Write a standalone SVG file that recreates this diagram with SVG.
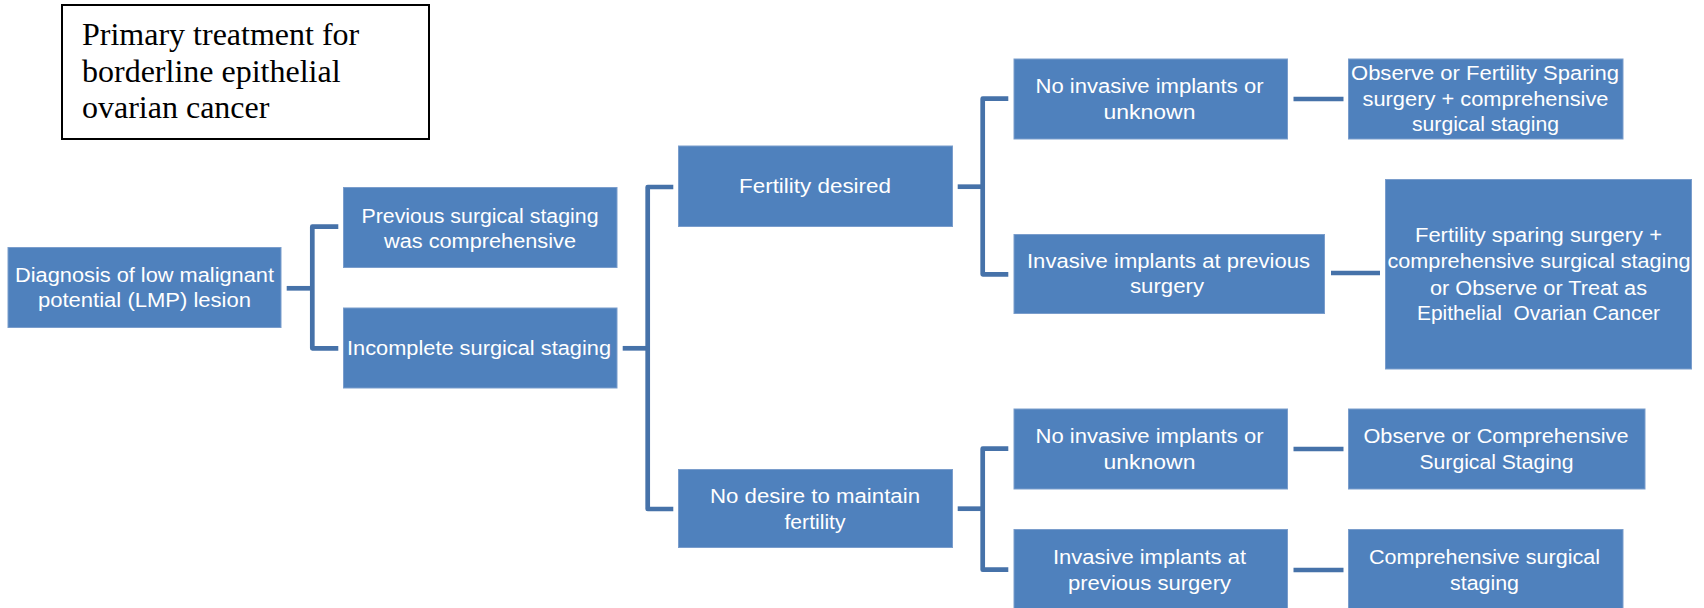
<svg xmlns="http://www.w3.org/2000/svg" width="1704" height="608" viewBox="0 0 1704 608">
<style>
.box{fill:#4F81BD;stroke:#7A9DCC;stroke-width:1}
.t{font-family:"Liberation Sans",Arial,sans-serif;font-size:20px;fill:#FFFFFF;text-anchor:middle}
.title{font-family:"Liberation Serif","Times New Roman",serif;font-size:32px;fill:#000000}
.c{fill:none;stroke:#4672A9;stroke-width:4.7;stroke-linejoin:round}
</style>
<rect width="1704" height="608" fill="#FFFFFF"/>
<g id="title">
<rect x="62" y="5" width="367" height="134" fill="#FFFFFF" stroke="#000000" stroke-width="2"/>
<text class="title" x="82" y="45">Primary treatment for</text>
<text class="title" x="82" y="82">borderline epithelial</text>
<text class="title" x="82" y="118">ovarian cancer</text>
</g>
<g id="connectors">
<path class="c" d="M286.7 288.3 H312.3"/>
<path class="c" d="M338.3 226.7 H312.3 V348.3 H338.3"/>
<path class="c" d="M622.7 348.3 H647.7"/>
<path class="c" d="M673.3 187 H647.7 V509 H673.3"/>
<path class="c" d="M957.7 186.7 H982.7"/>
<path class="c" d="M1008.3 98.7 H982.7 V274.3 H1008.3"/>
<path class="c" d="M957.7 508.7 H982.7"/>
<path class="c" d="M1008.3 448.7 H982.7 V569.7 H1008.3"/>
<path class="c" d="M1293.5 99 H1343.5"/>
<path class="c" d="M1331 273 H1380"/>
<path class="c" d="M1293.5 449 H1343.5"/>
<path class="c" d="M1293.5 570 H1343.5"/>
</g>
<g id="n1">
<rect class="box" x="8" y="247.5" width="273" height="80"/>
<text class="t" x="144.5" y="282" textLength="259" lengthAdjust="spacingAndGlyphs">Diagnosis of low malignant</text>
<text class="t" x="144.5" y="307" textLength="213" lengthAdjust="spacingAndGlyphs">potential (LMP) lesion</text>
</g>
<g id="n2">
<rect class="box" x="343.5" y="187.5" width="273.5" height="80"/>
<text class="t" x="480" y="223" textLength="237" lengthAdjust="spacingAndGlyphs">Previous surgical staging</text>
<text class="t" x="480" y="247.5" textLength="192" lengthAdjust="spacingAndGlyphs">was comprehensive</text>
</g>
<g id="n3">
<rect class="box" x="343.5" y="308" width="273.5" height="80"/>
<text class="t" x="479" y="355" textLength="264" lengthAdjust="spacingAndGlyphs">Incomplete surgical staging</text>
</g>
<g id="n4">
<rect class="box" x="678.5" y="146" width="274" height="80.5"/>
<text class="t" x="815" y="193" textLength="152" lengthAdjust="spacingAndGlyphs">Fertility desired</text>
</g>
<g id="n5">
<rect class="box" x="678.5" y="469.5" width="274" height="78"/>
<text class="t" x="815" y="503" textLength="210" lengthAdjust="spacingAndGlyphs">No desire to maintain</text>
<text class="t" x="815" y="529" textLength="61" lengthAdjust="spacingAndGlyphs">fertility</text>
</g>
<g id="n6">
<rect class="box" x="1014" y="59" width="273.5" height="80"/>
<text class="t" x="1149.5" y="93" textLength="228" lengthAdjust="spacingAndGlyphs">No invasive implants or</text>
<text class="t" x="1149.5" y="119" textLength="92" lengthAdjust="spacingAndGlyphs">unknown</text>
</g>
<g id="n7">
<rect class="box" x="1014" y="234.5" width="310.5" height="79"/>
<text class="t" x="1168.5" y="268" textLength="283" lengthAdjust="spacingAndGlyphs">Invasive implants at previous</text>
<text class="t" x="1167" y="293" textLength="74" lengthAdjust="spacingAndGlyphs">surgery</text>
</g>
<g id="n8">
<rect class="box" x="1348.5" y="59" width="274.5" height="80"/>
<text class="t" x="1485" y="80" textLength="268" lengthAdjust="spacingAndGlyphs">Observe or Fertility Sparing</text>
<text class="t" x="1485.5" y="105.5" textLength="246" lengthAdjust="spacingAndGlyphs">surgery + comprehensive</text>
<text class="t" x="1485.5" y="130.5" textLength="147" lengthAdjust="spacingAndGlyphs">surgical staging</text>
</g>
<g id="n9">
<rect class="box" x="1385.5" y="179.5" width="306" height="189.5"/>
<text class="t" x="1538.5" y="241.5" textLength="247" lengthAdjust="spacingAndGlyphs">Fertility sparing surgery +</text>
<text class="t" x="1539" y="267.5" textLength="303" lengthAdjust="spacingAndGlyphs">comprehensive surgical staging</text>
<text class="t" x="1538.5" y="294.5" textLength="217" lengthAdjust="spacingAndGlyphs">or Observe or Treat as</text>
<text class="t" x="1538.5" y="320" textLength="243" lengthAdjust="spacingAndGlyphs" xml:space="preserve">Epithelial  Ovarian Cancer</text>
</g>
<g id="n10">
<rect class="box" x="1014" y="409" width="273.5" height="80"/>
<text class="t" x="1149.5" y="443" textLength="228" lengthAdjust="spacingAndGlyphs">No invasive implants or</text>
<text class="t" x="1149.5" y="469" textLength="92" lengthAdjust="spacingAndGlyphs">unknown</text>
</g>
<g id="n11">
<rect class="box" x="1348.5" y="409" width="296.5" height="80"/>
<text class="t" x="1496" y="443" textLength="265" lengthAdjust="spacingAndGlyphs">Observe or Comprehensive</text>
<text class="t" x="1496.5" y="469" textLength="154" lengthAdjust="spacingAndGlyphs">Surgical Staging</text>
</g>
<g id="n12">
<rect class="box" x="1014" y="529.5" width="273.5" height="82"/>
<text class="t" x="1149.5" y="564" textLength="193" lengthAdjust="spacingAndGlyphs">Invasive implants at</text>
<text class="t" x="1149.5" y="590" textLength="163" lengthAdjust="spacingAndGlyphs">previous surgery</text>
</g>
<g id="n13">
<rect class="box" x="1348.5" y="529.5" width="274.5" height="82"/>
<text class="t" x="1484.5" y="564" textLength="231" lengthAdjust="spacingAndGlyphs">Comprehensive surgical</text>
<text class="t" x="1484.5" y="590" textLength="69" lengthAdjust="spacingAndGlyphs">staging</text>
</g>
</svg>
